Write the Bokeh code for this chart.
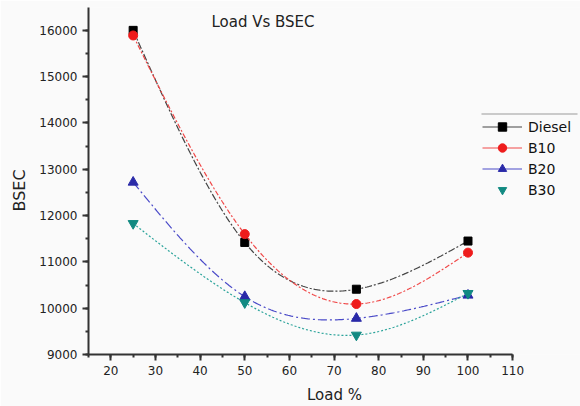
import numpy as np
from bokeh.plotting import figure
from bokeh.models import (Range1d, SingleIntervalTicker, Legend, LegendItem, Label, Title,
                          BoxAnnotation, ColumnDataSource)
from bokeh.embed import file_html
from bokeh.resources import INLINE

# engine load (%) and brake specific energy consumption per fuel
load = [25, 50, 75, 100]
diesel = [16000, 11420, 10410, 11450]
b10 = [15890, 11600, 10090, 11200]
b20 = [12720, 10250, 9780, 10280]
b30 = [11830, 10120, 9420, 10320]

FONT = "DejaVu Sans"


def natural_spline(xs, ys, n=200):
    """Smooth connecting curve through the measured points (natural cubic spline)."""
    xs = np.asarray(xs, float)
    ys = np.asarray(ys, float)
    k = len(xs)
    h = np.diff(xs)
    A = np.zeros((k, k))
    r = np.zeros(k)
    A[0, 0] = A[-1, -1] = 1.0
    for i in range(1, k - 1):
        A[i, i - 1] = h[i - 1]
        A[i, i] = 2 * (h[i - 1] + h[i])
        A[i, i + 1] = h[i]
        r[i] = 6 * ((ys[i + 1] - ys[i]) / h[i] - (ys[i] - ys[i - 1]) / h[i - 1])
    M = np.linalg.solve(A, r)
    xx = np.linspace(xs[0], xs[-1], n)
    idx = np.clip(np.searchsorted(xs, xx) - 1, 0, k - 2)
    x0, x1 = xs[idx], xs[idx + 1]
    hi = x1 - x0
    t0, t1 = x1 - xx, xx - x0
    yy = (M[idx] * t0 ** 3 + M[idx + 1] * t1 ** 3) / (6 * hi) \
        + (ys[idx] / hi - M[idx] * hi / 6) * t0 \
        + (ys[idx + 1] / hi - M[idx + 1] * hi / 6) * t1
    return xx, yy


p = figure(width=580, height=406, output_backend="svg", toolbar_location=None,
           x_range=Range1d(15, 125.2), y_range=Range1d(9000, 16494),
           min_border_left=87, min_border_right=0, min_border_top=7, min_border_bottom=50,
           background_fill_color="#fafafa", border_fill_color="#fafafa")
p.outline_line_color = None
p.grid.visible = False

for ax, interval in ((p.xaxis, 10), (p.yaxis, 1000)):
    ax.ticker = SingleIntervalTicker(interval=interval, num_minor_ticks=2)
    ax.axis_line_width = 2
    ax.axis_line_color = "#333333"
    ax.major_tick_line_color = "#333333"
    ax.minor_tick_line_color = "#333333"
    ax.major_tick_line_width = 2
    ax.minor_tick_line_width = 2
    ax.major_tick_in = 0
    ax.minor_tick_in = 0
    ax.major_tick_out = 6
    ax.minor_tick_out = 3
    ax.major_label_text_font = FONT
    ax.major_label_text_font_size = "12px"
    ax.major_label_text_color = "#222222"
    ax.major_label_standoff = 5

p.xaxis.bounds = (15, 110)
p.xaxis.axis_label = "Load %"
p.xaxis.axis_label_text_font = FONT
p.xaxis.axis_label_text_font_size = "15px"
p.xaxis.axis_label_text_font_style = "normal"
p.xaxis.axis_label_text_color = "#222222"
p.xaxis.axis_label_standoff = 8

series = [
    ("Diesel", diesel, "#000000", "#444444", "7 2 2 2", "square", 8, True),
    ("B10", b10, "#ee1c1c", "#f04848", "5 2 2 2", "circle", 9, True),
    ("B20", b20, "#2a2aa8", "#4a4ac8", "9 3 2 3", "triangle", 10, True),
    ("B30", b30, "#128a82", "#2aa39a", "2 2", "inverted_triangle", 10, False),
]

items = []
for name, vals, mcolor, lcolor, dash, marker, size, legend_line in series:
    cx, cy = natural_spline(load, vals)
    p.line(cx, cy, line_color=lcolor, line_width=1.2, line_dash=dash)
    src = ColumnDataSource(dict(x=load, y=vals))
    sc = p.scatter("x", "y", source=src, marker=marker, size=size,
                   fill_color=mcolor, line_color=mcolor)
    rends = []
    if legend_line:
        # solid swatch used only in the key; its single point is not plotted
        key_src = ColumnDataSource(dict(x=[load[0]], y=[np.nan]))
        rends.append(p.line("x", "y", source=key_src, line_color=lcolor, line_width=1.2))
    rends.append(sc)
    items.append(LegendItem(label=name, renderers=rends))

legend = Legend(items=items, location=(394, 154), glyph_width=40, glyph_height=21,
                label_height=21, label_standoff=6, spacing=0, padding=0, margin=0,
                border_line_color=None, background_fill_alpha=0,
                label_text_font=FONT, label_text_font_size="14px",
                label_text_color="#111111")
p.add_layout(legend)

# thin rule above the legend block
p.add_layout(BoxAnnotation(left=393, right=489, bottom=240, top=241,
                           left_units="screen", right_units="screen",
                           bottom_units="screen", top_units="screen",
                           fill_color="#999999", fill_alpha=1.0, line_color=None))

p.add_layout(Label(x=174.5, y=333, x_units="screen", y_units="screen",
                   text="Load Vs BSEC", text_align="center", text_baseline="alphabetic",
                   text_font=FONT, text_font_size="15px", text_color="#222222"))

p.add_layout(Title(text="BSEC", align="left", offset=143, standoff=15, text_font=FONT,
                   text_font_size="16px", text_font_style="normal",
                   text_color="#222222"), "left")

open("out.html", "w").write(file_html(p, INLINE))
